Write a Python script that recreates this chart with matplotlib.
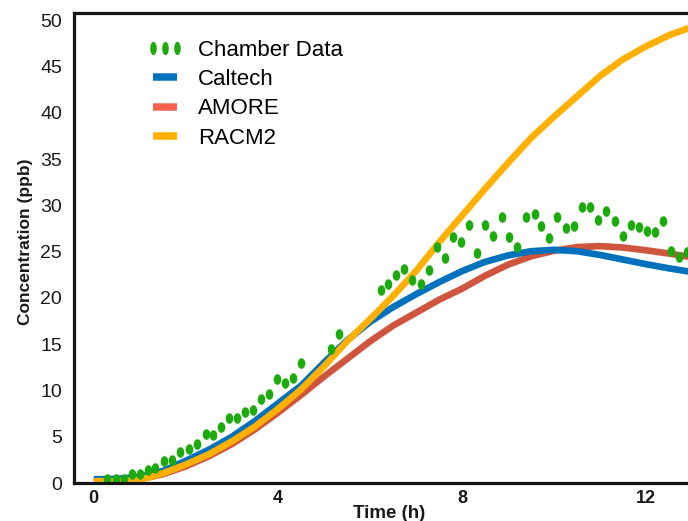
import numpy as np
import matplotlib
matplotlib.use("Agg")
import matplotlib.pyplot as plt
from matplotlib.path import Path
from matplotlib.lines import Line2D

plt.rcParams['font.family'] = ['Liberation Sans', 'DejaVu Sans']

# ---- data ----
time_obs = [0.29, 0.49, 0.65, 0.83, 1.00, 1.17, 1.34, 1.52, 1.70, 1.88, 2.07, 2.25,
            2.43, 2.59, 2.77, 2.94, 3.11, 3.28, 3.46, 3.63, 3.81, 3.97, 4.15, 4.32,
            4.50, 5.15, 5.33, 6.23, 6.40, 6.57, 6.75, 6.92, 7.10, 7.28, 7.46, 7.63,
            7.80, 7.98, 8.15, 8.32, 8.49, 8.68, 8.87, 9.03, 9.19, 9.38, 9.58, 9.72,
            9.89, 10.07, 10.27, 10.43, 10.61, 10.78, 10.96, 11.13, 11.33, 11.50, 11.68,
            11.85, 12.02, 12.19, 12.37, 12.54, 12.72, 12.88]
conc_obs = [0.43, 0.43, 0.43, 0.97, 0.97, 1.43, 1.58, 2.37, 2.51, 3.34, 3.64, 4.21,
            5.29, 5.21, 6.07, 7.01, 7.01, 7.63, 7.84, 9.03, 9.65, 11.29, 10.82, 11.35,
            12.98, 14.53, 16.07, 20.82, 21.54, 22.47, 23.09, 21.93, 21.54, 23.01, 25.51, 24.27,
            26.61, 26.05, 27.94, 24.84, 27.94, 26.68, 28.77, 26.57, 25.48, 28.77, 29.09, 27.76,
            26.43, 28.77, 27.58, 27.76, 29.85, 29.85, 28.48, 29.42, 28.30, 26.68, 27.94,
            27.67, 27.26, 27.11, 28.30, 25.05, 24.46, 24.92]

time_model = [0.0, 0.5, 1.0, 1.5, 2.0, 2.5, 3.0, 3.5, 4.0, 4.5, 5.0, 5.5, 6.0, 6.5,
              7.0, 7.5, 8.0, 8.5, 9.0, 9.5, 10.0, 10.5, 11.0, 11.5, 12.0, 12.5, 13.0]
caltech = [0.4, 0.45, 0.65, 1.3, 2.4, 3.6, 5.0, 6.7, 8.6, 10.5, 13.0, 15.4, 17.4, 19.0,
           20.4, 21.7, 22.9, 23.9, 24.6, 25.05, 25.2, 25.05, 24.65, 24.15, 23.65, 23.2, 22.8]
amore = [0.2, 0.25, 0.4, 0.95, 1.8, 2.9, 4.2, 5.8, 7.6, 9.5, 11.5, 13.4, 15.3, 17.0,
         18.4, 19.8, 21.0, 22.4, 23.6, 24.5, 25.1, 25.5, 25.6, 25.45, 25.15, 24.8, 24.4]
racm2 = [0.2, 0.2, 0.35, 1.05, 2.0, 3.1, 4.5, 6.1, 8.0, 10.1, 12.6, 15.3, 17.7, 20.2,
         22.9, 26.0, 28.9, 31.8, 34.6, 37.3, 39.6, 41.8, 44.0, 45.8, 47.2, 48.4, 49.3]

series_labels = ['Chamber Data', 'Caltech', 'AMORE', 'RACM2']
x_ticks = [0, 4, 8, 12]
y_ticks = [0, 5, 10, 15, 20, 25, 30, 35, 40, 45, 50]

# ---- style ----
c_green = '#1DAA0C'
c_blue = '#0072BD'
c_red = '#D0553F'
c_red_leg = '#F8624E'
c_orange = '#FFB000'

th = np.linspace(0, 2 * np.pi, 40)
ellipse = Path(np.column_stack([0.72 * np.cos(th), np.sin(th)]), closed=True)
ellipse_leg = Path(np.column_stack([0.5 * np.cos(th), np.sin(th)]), closed=True)

W, H = 688, 521
fig = plt.figure(figsize=(W / 100, H / 100), dpi=100)
ax = fig.add_axes([74 / W, (H - 483) / H, (W - 74) / W, (483 - 13) / H])

lw = 4.8
ax.plot(time_model, amore, color=c_red, lw=lw, solid_capstyle='butt', zorder=2)
ax.plot(time_model, caltech, color=c_blue, lw=lw, solid_capstyle='butt', zorder=2.1)
ax.plot(time_model, racm2, color=c_orange, lw=lw, solid_capstyle='butt', zorder=2.2)
ax.plot(time_obs, conc_obs, linestyle='none', marker=ellipse, markersize=7.6,
        color=c_green, markeredgewidth=0, zorder=3)

ax.set_xlim(-0.43, 12.91)
ax.set_ylim(0, 50.8)

for s in ['left', 'bottom', 'top']:
    ax.spines[s].set_linewidth(2.3)
    ax.spines[s].set_color('#151515')
    ax.spines[s].set_zorder(4)
ax.spines['right'].set_visible(False)

ax.set_yticks(y_ticks)
ax.set_yticklabels([str(v) for v in y_ticks], fontsize=14, color='#1a1a1a')
ax.set_xticks(x_ticks)
ax.set_xticklabels([str(v) for v in x_ticks], fontsize=13, fontweight='bold', color='#1a1a1a')
ax.tick_params(axis='y', length=0, pad=8.5)
ax.tick_params(axis='x', length=0, pad=5)

ax.set_xlabel('Time (h)', fontsize=13.5, fontweight='bold', color='#1a1a1a')
ax.xaxis.set_label_coords((389 - 74) / 614, (483 - 505) / 470)
ax.set_ylabel('Concentration (ppb)', fontsize=12.5, fontweight='bold', color='#1a1a1a')
ax.yaxis.set_label_coords((33 - 74) / 614, (483 - 242) / 470)

handles = [
    Line2D([], [], linestyle='none', marker=ellipse_leg, markersize=9.5, color=c_green,
           markeredgewidth=0),
    Line2D([], [], color=c_blue, lw=5.4, solid_capstyle='butt'),
    Line2D([], [], color=c_red_leg, lw=5.4, solid_capstyle='butt'),
    Line2D([], [], color=c_orange, lw=5.4, solid_capstyle='butt'),
]
fig.legend(handles, series_labels, loc='upper left',
           bbox_to_anchor=(146 / W, 1 - 40 / H), bbox_transform=fig.transFigure,
           frameon=False, fontsize=16, numpoints=3, handlelength=1.71,
           handletextpad=0.63, labelspacing=0.37, borderpad=0, borderaxespad=0)

fig.savefig('out.png', dpi=100)
